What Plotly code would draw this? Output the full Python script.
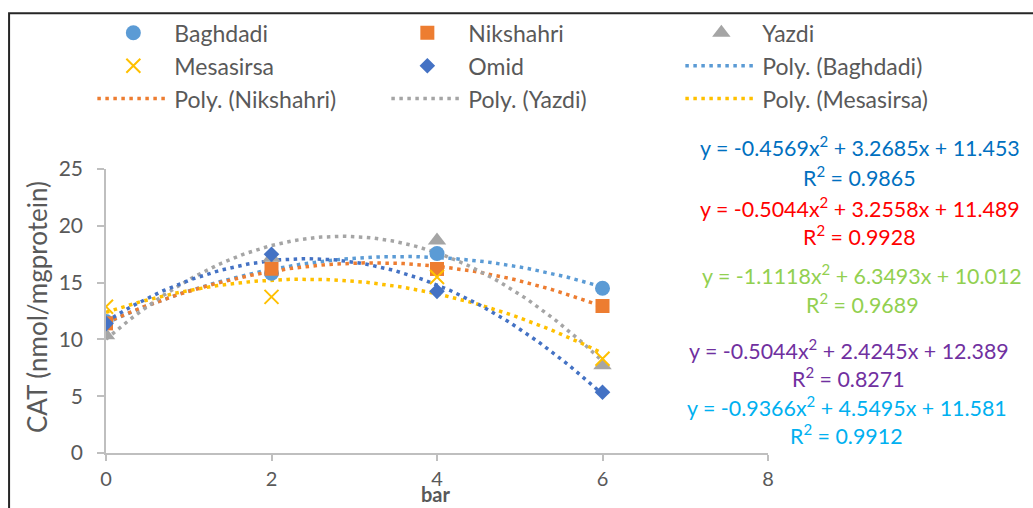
import numpy as np
import plotly.graph_objects as go

# ---- data ----
x_bar = [0, 2, 4, 6]
baghdadi = [11.57, 15.82, 17.56, 14.50]
nikshahri = [11.41, 16.22, 16.20, 12.94]
yazdi = [10.37, 17.18, 18.70, 7.72]
mesasirsa = [12.88, 13.74, 15.50, 8.29]
omid = [11.39, 17.50, 14.23, 5.35]

# polynomial trendline coefficients (a, b, c) and R² printed on the chart
coef_baghdadi = [-0.4569, 3.2685, 11.453]
coef_nikshahri = [-0.5044, 3.2558, 11.489]
coef_yazdi = [-1.1118, 6.3493, 10.012]
coef_mesasirsa = [-0.5044, 2.4245, 12.389]
coef_omid = [-0.9366, 4.5495, 11.581]
r2_values = [0.9865, 0.9928, 0.9689, 0.8271, 0.9912]

x_ticks = [0, 2, 4, 6, 8]
y_ticks = [0, 5, 10, 15, 20, 25]

FONT = "Lato"
TXT = "#595959"

# plot-area geometry (pixels) used for paper conversion
W, H = 1033, 508
L, R, T, B = 105.5, 265, 169.3, 55.3
PW, PH = W - L - R, H - T - B


def px_x(p):
    return (p - L) / PW


def px_y(p):
    return (H - B - p) / PH


series = [
    ("Baghdadi", baghdadi, coef_baghdadi, "#5B9BD5", "circle", 15),
    ("Nikshahri", nikshahri, coef_nikshahri, "#ED7D31", "square", 14),
    ("Yazdi", yazdi, coef_yazdi, "#A5A5A5", "triangle-up", 16),
    ("Mesasirsa", mesasirsa, coef_mesasirsa, "#FFC000", "x-thin", 14),
    ("Omid", omid, coef_omid, "#4472C4", "diamond", 12),
]

fig = go.Figure()

# trendlines (drawn first, below markers)
xs = np.linspace(min(x_bar), max(x_bar), 121)
for i, (name, vals, coef, color, sym, sz) in enumerate(series):
    ys = np.polyval(coef, xs)
    fig.add_trace(go.Scatter(
        x=xs, y=ys, mode="lines", name=f"Poly. ({name})",
        line=dict(color=color, width=3.5, dash="3.5px,4.5px"),
        showlegend=(name != "Omid"), hoverinfo="skip", legendrank=100 + i,
    ))

for i, (name, vals, coef, color, sym, sz) in enumerate(series):
    mk = dict(symbol=sym, size=sz, color=color)
    if sym == "x-thin":
        mk["line"] = dict(color=color, width=2)
    fig.add_trace(go.Scatter(x=x_bar, y=vals, mode="markers", name=name,
                             marker=mk, legendrank=i))

# equation annotations
eq_colors = ["#0070C0", "#FF0000", "#92D050", "#7030A0", "#00B0F0"]
eq_rows = [(147, 177), (208, 236), (275, 303.5), (349, 377.5), (406, 434.5)]
eq_cx = [860, 860, 862.5, 849, 847]
coefs = [coef_baghdadi, coef_nikshahri, coef_yazdi, coef_mesasirsa, coef_omid]
annotations = []
for c, r2, col, (y1, y2), cx in zip(coefs, r2_values, eq_colors, eq_rows, eq_cx):
    a, b, k = c
    t1 = f"y = {a}x<sup>2</sup> + {b}x + {k}"
    t2 = f"R<sup>2</sup> = {r2}"
    for txt, yy in ((t1, y1), (t2, y2)):
        annotations.append(dict(
            x=px_x(cx), y=px_y(yy), xref="paper", yref="paper",
            text=txt, showarrow=False, xanchor="center", yanchor="middle",
            font=dict(family=FONT, size=21.4, color=col)))

# axis titles
annotations.append(dict(x=px_x(435.5), y=px_y(508), xref="paper", yref="paper",
                        text="<b>bar</b>", showarrow=False,
                        font=dict(family=FONT, size=20, color=TXT),
                        xanchor="center", yanchor="bottom"))
annotations.append(dict(x=px_x(37), y=px_y(307.5), xref="paper", yref="paper",
                        text="CAT (nmol/mgprotein)", showarrow=False,
                        textangle=-90,
                        font=dict(family=FONT, size=26, color=TXT),
                        xanchor="center", yanchor="middle"))

LEG_LEFT = 87.5
ENTRY = 294
fig.update_layout(
    width=W, height=H,
    margin=dict(l=L, r=R, t=T, b=B, pad=0),
    paper_bgcolor="white", plot_bgcolor="white",
    font=dict(family=FONT, size=21, color=TXT),
    annotations=annotations,
    legend=dict(
        orientation="h", x=px_x(LEG_LEFT + 3 * ENTRY + 5), y=px_y(12),
        xanchor="right", yanchor="top",
        itemwidth=72, entrywidth=ENTRY - 87, entrywidthmode="pixels",
        font=dict(family=FONT, size=23, color=TXT),
        bgcolor="rgba(0,0,0,0)", traceorder="normal", itemclick=False,
    ),
    shapes=[dict(type="rect", xref="paper", yref="paper",
                 x0=px_x(8.5), x1=px_x(1100), y0=px_y(560), y1=px_y(14),
                 line=dict(color="#262626", width=2), layer="above")],
    showlegend=True,
)

fig.update_xaxes(range=[0, 8], tickvals=x_ticks, showgrid=False, zeroline=False,
                 showline=True, linecolor="#BFBFBF", linewidth=1.5,
                 ticks="outside", ticklen=6, tickcolor="#BFBFBF", tickwidth=1.5,
                 ticklabelstandoff=1,
                 tickfont=dict(family=FONT, size=20, color=TXT))
fig.update_yaxes(range=[0, 25], tickvals=y_ticks, showgrid=False, zeroline=False,
                 showline=True, linecolor="#BFBFBF", linewidth=1.5,
                 ticks="outside", ticklen=7, tickcolor="#BFBFBF", tickwidth=1.5,
                 ticklabelstandoff=10,
                 tickfont=dict(family=FONT, size=21, color=TXT))

fig.write_html("out.html", config={"displayModeBar": False},
               post_script="document.body.style.margin='0px';")
